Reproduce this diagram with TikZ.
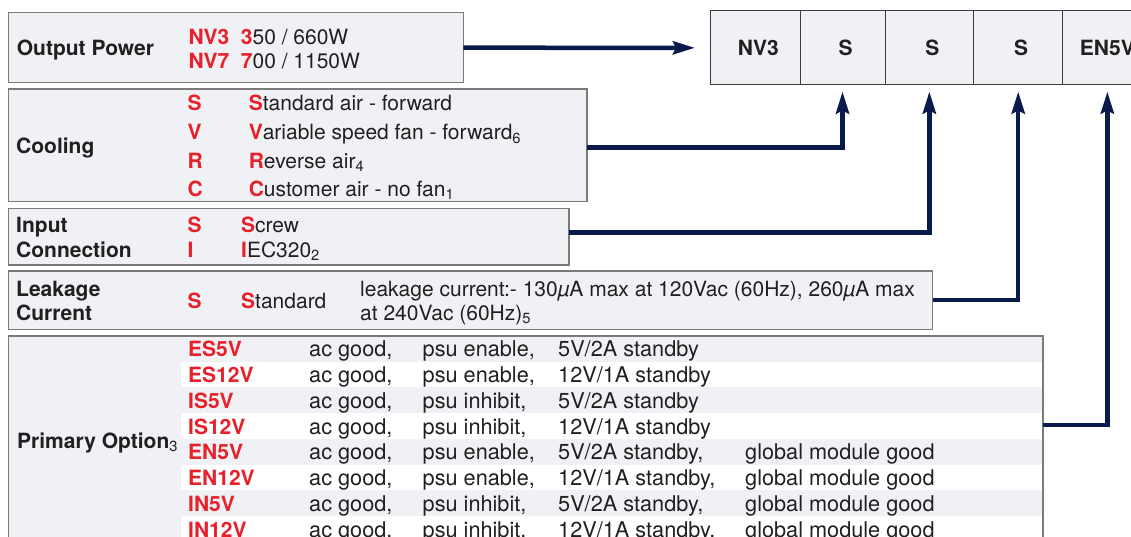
\documentclass[tikz,border=0pt]{standalone}
\usepackage{fontspec}
\setmainfont{TeX Gyre Heros}
\usetikzlibrary{arrows.meta}
\definecolor{boxfill}{HTML}{F0F1F5}
\definecolor{boxline}{HTML}{7A7A7A}
\definecolor{cellline}{HTML}{3C3C3C}
\definecolor{codered}{HTML}{E8202A}
\definecolor{navy}{HTML}{0A1A4A}
\definecolor{ink}{HTML}{231F20}
\newcommand{\fs}{\fontsize{21}{25}\selectfont}
\newcommand{\fsp}{\fontsize{21.7}{25}\selectfont}
\newcommand{\rd}[1]{\textcolor{codered}{\bfseries #1}}
\newcommand{\primrow}[5]{%
  \node[code] (pc#1) at (188, {356.7+25.8*(#1-1)}) {#2};
  \node[ptxt] (pa#1) at (309, {356.7+25.8*(#1-1)}) {ac good,};
  \node[ptxt] (pp#1) at (422.5, {356.7+25.8*(#1-1)}) {#3};
  \node[ptxt] (ps#1) at (558, {356.7+25.8*(#1-1)}) {#4};
  \node[ptxt] (pg#1) at (745, {356.7+25.8*(#1-1)}) {#5};
}
\begin{document}
\begin{tikzpicture}[x=1pt,y=-1pt,
  box/.style={draw=boxline, line width=1.3pt, fill=boxfill, inner sep=0pt, outer sep=0pt, anchor=north west, rectangle},
  cell/.style={draw=cellline, line width=1pt, fill=boxfill, inner sep=0pt, outer sep=0pt, anchor=north west, minimum height=74.3pt, text=ink, font=\fs\bfseries},
  lbl/.style={anchor=base west, inner sep=0pt, text=ink, font=\fs\bfseries},
  code/.style={anchor=base west, inner sep=0pt, text=codered, font=\fs\bfseries},
  txt/.style={anchor=base west, inner sep=0pt, text=ink, font=\fs},
  ptxt/.style={anchor=base west, inner sep=0pt, text=ink, font=\fsp},
  conn/.style={draw=navy, line width=4.5pt, line join=miter, -{Stealth[length=22pt,width=13pt,inset=3pt]}}
]
\clip (0,0) rectangle (1131,537);
\fill[white] (0,0) rectangle (1131,537);

% --- boxes ---
\node[box, minimum width=455pt, minimum height=70pt] (op) at (8.3,12.7) {};
\node[box, minimum width=578.7pt, minimum height=112.7pt] (cool) at (8.3,89) {};
\node[box, minimum width=560.7pt, minimum height=56.7pt] (inp) at (8.3,208.3) {};
\node[box, minimum width=924.4pt, minimum height=58.3pt] (leak) at (8.3,271) {};
\node[box, minimum width=1034.7pt, minimum height=270pt] (prim) at (8.3,336) {};
\foreach \t in {361.7,413.3,464.7,516}{
  \fill[white] (181,\t) rectangle (1042.3,\t+25.7);
}
\draw[draw=boxline, line width=1.3pt] (prim.north west) rectangle (prim.south east);

% --- code cells ---
\node[cell, minimum width=89.3pt] (c1) at (710.7,10.7) {\hspace*{6pt}NV3};
\node[cell, minimum width=85pt]   (c2) at (800,10.7) {\hspace*{6pt}S};
\node[cell, minimum width=88.7pt] (c3) at (885,10.7) {\hspace*{6pt}S};
\node[cell, minimum width=89pt]   (c4) at (973.7,10.7) {\hspace*{6pt}S};
\node[cell, minimum width=89.3pt] (c5) at (1062.7,10.7) {EN5V};

% --- output power ---
\node[lbl] (opl) at (16.7,56) {Output Power};
\node[code] (op1c) at (188.3,44.3) {NV3};
\node[txt] (op1d) at (240.7,44.3) {\rd{3}50 / 660W};
\node[code] (op2c) at (188.3,68.3) {NV7};
\node[txt] (op2d) at (240.7,68.3) {\rd{7}00 / 1150W};

% --- cooling ---
\node[lbl] (cooll) at (16,153.3) {Cooling};
\node[code] (co1c) at (187.4,111) {S};
\node[txt]  (co1d) at (248.6,111) {\rd{S}tandard air - forward};
\node[code] (co2c) at (187.4,140) {V};
\node[txt]  (co2d) at (248.6,140) {\rd{V}ariable speed fan - forward\textsubscript{6}};
\node[code] (co3c) at (187.4,168.3) {R};
\node[txt]  (co3d) at (248.6,168.3) {\rd{R}everse air\textsubscript{4}};
\node[code] (co4c) at (187.4,196.7) {C};
\node[txt]  (co4d) at (248.6,196.7) {\rd{C}ustomer air - no fan\textsubscript{1}};

% --- input connection ---
\node[lbl] (inl1) at (16,232.7) {Input};
\node[lbl] (inl2) at (16,257.3) {Connection};
\node[code] (in1c) at (187.5,232.3) {S};
\node[txt]  (in1d) at (241,232.3) {\rd{S}crew};
\node[code] (in2c) at (187.5,257.3) {I};
\node[txt]  (in2d) at (241,257.3) {\rd{I}EC320\textsubscript{2}};

% --- leakage current ---
\node[lbl] (lkl1) at (16,296.7) {Leakage};
\node[lbl] (lkl2) at (16,320) {Current};
\node[code] (lk1c) at (187.5,308.3) {S};
\node[txt]  (lk1d) at (241,308.3) {\rd{S}tandard};
\node[txt]  (lkt1) at (360,296) {leakage current:- 130{\itshape µ}A max at 120Vac (60Hz), 260{\itshape µ}A max};
\node[txt]  (lkt2) at (360,320) {at 240Vac (60Hz)\textsubscript{5}};

% --- primary option ---
\node[lbl] (prl) at (17,448.3) {Primary Option\textsubscript{\mdseries 3}};
\primrow{1}{ES5V}{psu enable,}{5V/2A standby}{}
\primrow{2}{ES12V}{psu enable,}{12V/1A standby}{}
\primrow{3}{IS5V}{psu inhibit,}{5V/2A standby}{}
\primrow{4}{IS12V}{psu inhibit,}{12V/1A standby}{}
\primrow{5}{EN5V}{psu enable,}{5V/2A standby,}{global module good}
\primrow{6}{EN12V}{psu enable,}{12V/1A standby,}{global module good}
\primrow{7}{IN5V}{psu inhibit,}{5V/2A standby,}{global module good}
\primrow{8}{IN12V}{psu inhibit,}{12V/1A standby,}{global module good}

% --- connectors ---
\draw[conn] (op.east) -- ([xshift=-15.7pt]c1.west);
\draw[conn] ([yshift=-2pt]cool.east) -| ([yshift=-6.5pt]c2.south);
\draw[conn] ([yshift=4pt]inp.east) -| ([yshift=-6.5pt]c3.south);
\draw[conn] (leak.east) -| ([yshift=-6.5pt]c4.south);
\draw[conn] ([yshift=-89pt]prim.north east) -| ([yshift=-6.5pt]c5.south);
\end{tikzpicture}
\end{document}
